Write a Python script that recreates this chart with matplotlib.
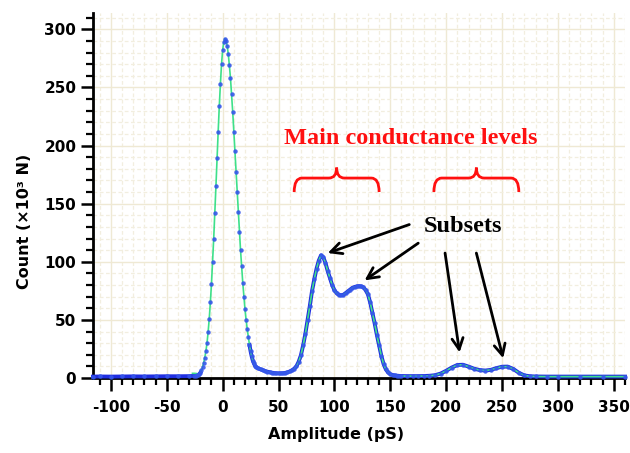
import matplotlib
matplotlib.use("Agg")
import matplotlib.pyplot as plt
from matplotlib.path import Path
from matplotlib.patches import PathPatch
from matplotlib.ticker import MultipleLocator
import numpy as np

# amplitude bins (pS) and counts (x10^3)
amp = [-116, -110, -100, -90, -80, -70, -60, -50, -40, -30, -26, -24, -23,
       -22, -21, -20, -19, -18, -17, -16, -15, -14, -13, -12, -11, -10, -9, -8, -7,
       -6, -5, -4, -3, -2, -1, 0, 1, 2, 3, 4, 5, 6, 7, 8, 9, 10, 11, 12, 13, 14,
       15, 16, 17, 18, 19, 20, 21, 22, 23, 24, 25, 26, 27, 28, 29, 30,
       32, 34, 36, 38, 40, 42, 44, 46, 48, 50, 52, 54, 56, 58, 60, 62, 64, 66,
       68, 70, 72, 74, 76, 78, 80, 82, 84, 86, 88, 90, 92, 94, 96, 98, 100,
       102, 104, 106, 108, 110, 112, 114, 116, 118, 120, 122, 124, 126, 128,
       130, 132, 134, 136, 138, 140, 142, 144, 146, 148, 150, 152, 154, 156,
       158, 160, 165, 170, 175, 180, 185, 190, 195, 200, 205, 210, 215, 220,
       225, 230, 235, 240, 245, 250, 255, 260, 265, 270, 275, 280, 290, 300,
       320, 340, 360]
counts = [1.2, 1.3, 1.2, 1.3, 1.4, 1.3, 1.4, 1.5, 1.5, 1.6, 1.8, 2.0, 2.2,
          2.5, 3.2, 4.5, 6.5, 9.5, 13, 17.5, 23, 30, 39.5, 51, 65, 81, 100, 120, 142,
          165, 189, 212, 234, 253, 270, 282, 289, 292, 290, 286, 279, 269, 258, 244,
          229, 212, 195, 177, 160, 143,
          126, 110, 96, 82, 70, 59, 50, 42, 35, 28.5, 23, 18.5, 15, 12.5, 10.5, 9.3,
          8.2, 7.4, 6.7, 6.0, 5.4, 5.0, 4.6, 4.3, 4.1, 4.0, 4.0, 4.1, 4.4, 4.9, 5.6,
          6.6, 8.0, 10, 14, 19.5, 28, 38, 50, 62, 75, 85, 94, 101, 105.5, 104, 99,
          92, 86, 80, 75.5, 73, 71.5, 71.2, 71.6, 73, 74.5, 76, 77.5, 78.3, 78.8,
          79, 78.8, 78, 75.5, 72, 65, 56, 47, 37, 28, 19, 12, 7.5, 4.8, 3.3, 2.6,
          2.2, 2.0, 1.8, 1.7, 1.6, 1.6, 1.6, 1.7, 1.9, 2.4, 3.8, 6.2, 9.0, 11.2,
          11.4, 9.8, 8.0, 6.8, 6.4, 7.0, 8.5, 9.7, 9.8, 7.8, 4.5, 2.2, 1.5, 1.3,
          1.2, 1.2, 1.2, 1.2, 1.2]

# start of the fitted (green) curve, which sits a little above the data
fit_head_amp = [-27, -25, -23]
fit_head_counts = [4.0, 4.0, 3.8]

brace_spans = [(64, 140), (189, 265)]
subset_arrows = [((167, 132), (94, 107.5)), ((175, 116), (127, 84)),
                 ((199, 107.5), (212, 22)), ((227, 107.5), (251, 17))]

amp = np.array(amp, dtype=float)
counts = np.array(counts, dtype=float)

plt.rcParams['font.family'] = ['DejaVu Sans']
plt.rcParams['font.weight'] = 'bold'
plt.rcParams['axes.unicode_minus'] = False

fig = plt.figure(figsize=(6.3, 4.53), dpi=100)
ax = fig.add_axes([93 / 630, 1 - 378 / 453, 532 / 630, 365 / 453])

ax.set_xlim(-116, 360)
ax.set_ylim(0, 314)

# grid: solid at the major ticks, dashed at the minor ones
ax.xaxis.set_major_locator(MultipleLocator(50))
ax.xaxis.set_minor_locator(MultipleLocator(10))
ax.yaxis.set_major_locator(MultipleLocator(50))
ax.yaxis.set_minor_locator(MultipleLocator(10))
ax.grid(which='major', color='#efe9d4', lw=1.0, zorder=0)
ax.grid(which='minor', color='#f2eedf', lw=0.9, ls=(0, (3, 2)), zorder=0)
ax.set_axisbelow(True)

blue = '#1f2ee0'
green = '#3ee08a'

# dense data drawn as a thick blue band outside the main peak
left = amp <= -20
right = amp >= 24
ax.plot(amp[left], counts[left], color=blue, lw=2.8, clip_on=False, zorder=3)
ax.plot(amp[right], counts[right], color=blue, lw=2.8, clip_on=False, zorder=3)

# fitted curve
fit_mask = amp >= -23
fit_x = np.concatenate([fit_head_amp, amp[fit_mask]])
fit_y = np.concatenate([fit_head_counts, counts[fit_mask]])
ax.plot(fit_x, fit_y, color=green, lw=1.2, clip_on=False, zorder=4)

# data points
ax.plot(amp, counts, ls='none', marker='o', ms=3.2, mfc='#3556ea', mec='#3556ea',
        mew=0, alpha=0.9, clip_on=False, zorder=5)

for s in ['top', 'right']:
    ax.spines[s].set_visible(False)
for s in ['left', 'bottom']:
    ax.spines[s].set_linewidth(2)
    ax.spines[s].set_zorder(2)

ax.tick_params(which='major', direction='out', length=9, width=1.8, labelsize=11)
ax.tick_params(which='minor', direction='out', length=5, width=1.6)
ax.tick_params(axis='x', which='major', pad=7)
ax.tick_params(axis='y', which='major', pad=3)
ax.set_yticks([0, 50, 100, 150, 200, 250, 300])

ax.set_xlabel('Amplitude (pS)', fontsize=11.5, fontweight='bold')
ax.set_ylabel('Count (×10³ N)', fontsize=11.5, fontweight='bold')
ax.xaxis.set_label_coords(0.457, -0.135)
ax.yaxis.set_label_coords(-0.115, 0.43)

# annotations
ax.text(168, 206, 'Main conductance levels', color='#ff1010', fontsize=17.5,
        fontweight='bold', family=['Liberation Serif'], ha='center', va='center')
ax.text(215, 130, 'Subsets', color='black', fontsize=17.5, fontweight='bold',
        family=['Liberation Serif'], ha='center', va='center')

y_end, y_base, y_tip, hook = 160, 172, 181, 7
for x0, x1 in brace_spans:
    xm = (x0 + x1) / 2
    verts = [(x0, y_end), (x0, y_base), (x0 + hook, y_base),
             (xm - hook, y_base), (xm, y_base), (xm, y_tip),
             (xm, y_base), (xm + hook, y_base),
             (x1 - hook, y_base), (x1, y_base), (x1, y_end)]
    codes = [Path.MOVETO, Path.CURVE3, Path.CURVE3,
             Path.LINETO, Path.CURVE3, Path.CURVE3,
             Path.CURVE3, Path.CURVE3,
             Path.LINETO, Path.CURVE3, Path.CURVE3]
    ax.add_patch(PathPatch(Path(verts, codes), fill=False, ec='#ff1010', lw=2,
                           zorder=6))

for start, end in subset_arrows:
    ax.annotate('', xy=end, xytext=start,
                arrowprops=dict(arrowstyle='->', color='black', lw=2,
                                mutation_scale=20, shrinkA=0, shrinkB=0))

fig.savefig('out.png', dpi=100)
